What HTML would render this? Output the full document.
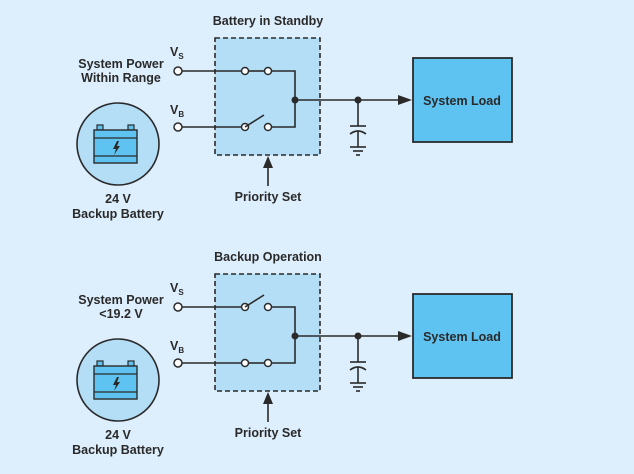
<!DOCTYPE html>
<html><head><style>
body{margin:0;background:#ddeefd;}
svg{display:block}
text{font-family:"Liberation Sans",sans-serif;font-weight:bold;fill:#2a2a2a;font-size:12.5px}
</style></head><body>
<svg width="634" height="474" viewBox="0 0 634 474">
<rect width="634" height="474" fill="#ddeefd"/>
<defs>
<g id="common">
  <rect x="215" y="38" width="105" height="117" fill="#b3def6" stroke="#2a2a2a" stroke-width="1.6" stroke-dasharray="5,3"/>
  <g stroke="#2a2a2a" stroke-width="1.6" fill="none">
    <line x1="182" y1="71" x2="241" y2="71"/>
    <line x1="182" y1="127" x2="241" y2="127"/>
    <polyline points="272,71 295,71 295,127 272,127"/>
    <line x1="295" y1="100" x2="400" y2="100"/>
    <line x1="358" y1="100" x2="358" y2="126"/>
    <line x1="350" y1="126" x2="366" y2="126"/>
    <path d="M350 134 Q358 128 366 134"/>
    <line x1="358" y1="131" x2="358" y2="147"/>
    <line x1="350" y1="147" x2="366" y2="147"/>
    <line x1="353" y1="151" x2="363" y2="151"/>
    <line x1="356" y1="155" x2="360" y2="155"/>
    <line x1="268" y1="186" x2="268" y2="166"/>
  </g>
  <polygon points="398,95 412,100 398,105" fill="#2a2a2a"/>
  <polygon points="263,168 268,156 273,168" fill="#2a2a2a"/>
  <circle cx="295" cy="100" r="3.5" fill="#2a2a2a"/>
  <circle cx="358" cy="100" r="3.5" fill="#2a2a2a"/>
  <g fill="#fff" stroke="#2a2a2a" stroke-width="1.5">
    <circle cx="178" cy="71" r="4"/><circle cx="178" cy="127" r="4"/>
    <circle cx="245" cy="71" r="3.5"/><circle cx="268" cy="71" r="3.5"/>
    <circle cx="245" cy="127" r="3.5"/><circle cx="268" cy="127" r="3.5"/>
  </g>
  <rect x="413" y="58" width="99" height="84" fill="#5fc3f1" stroke="#2a2a2a" stroke-width="1.8"/>
  <text x="462" y="105" text-anchor="middle" font-size="13">System Load</text>
  <circle cx="118" cy="144" r="41" fill="#b3def6" stroke="#2a2a2a" stroke-width="1.6"/>
  <rect x="97" y="125" width="6" height="5" fill="#5fc3f1" stroke="#2a2a2a" stroke-width="1.2"/>
  <rect x="128" y="125" width="6" height="5" fill="#5fc3f1" stroke="#2a2a2a" stroke-width="1.2"/>
  <rect x="94" y="130" width="43" height="33" fill="#5fc3f1" stroke="#2a2a2a" stroke-width="1.4"/>
  <line x1="94" y1="138" x2="137" y2="138" stroke="#2a2a2a" stroke-width="1.2"/>
  <line x1="94" y1="156" x2="137" y2="156" stroke="#2a2a2a" stroke-width="1.2"/>
  <polygon points="117,141 113,149 116,149 114,155 120,146 117,146 119,141" fill="#2a2a2a"/>
  <text x="170" y="56" font-size="12.5">V<tspan font-size="8" dy="3">S</tspan></text>
  <text x="170" y="114" font-size="12.5">V<tspan font-size="8" dy="3">B</tspan></text>
  <text x="268" y="201" text-anchor="middle">Priority Set</text>
  <text x="118" y="203" text-anchor="middle">24 V</text>
  <text x="118" y="218" text-anchor="middle">Backup Battery</text>
</g>
</defs>
<use href="#common"/>
<line x1="245" y1="127" x2="264" y2="115" stroke="#2a2a2a" stroke-width="1.6"/>
<line x1="249" y1="71" x2="264" y2="71" stroke="#2a2a2a" stroke-width="1.6"/>
<text x="268" y="25" text-anchor="middle">Battery in Standby</text>
<text x="121" y="68" text-anchor="middle">System Power</text>
<text x="121" y="82" text-anchor="middle">Within Range</text>

<g transform="translate(0,236)">
<use href="#common"/>
<line x1="245" y1="71" x2="264" y2="59" stroke="#2a2a2a" stroke-width="1.6"/>
<line x1="249" y1="127" x2="264" y2="127" stroke="#2a2a2a" stroke-width="1.6"/>
<text x="268" y="25" text-anchor="middle">Backup Operation</text>
<text x="121" y="68" text-anchor="middle">System Power</text>
<text x="121" y="82" text-anchor="middle">&lt;19.2 V</text>
</g>
</svg>
</body></html>
